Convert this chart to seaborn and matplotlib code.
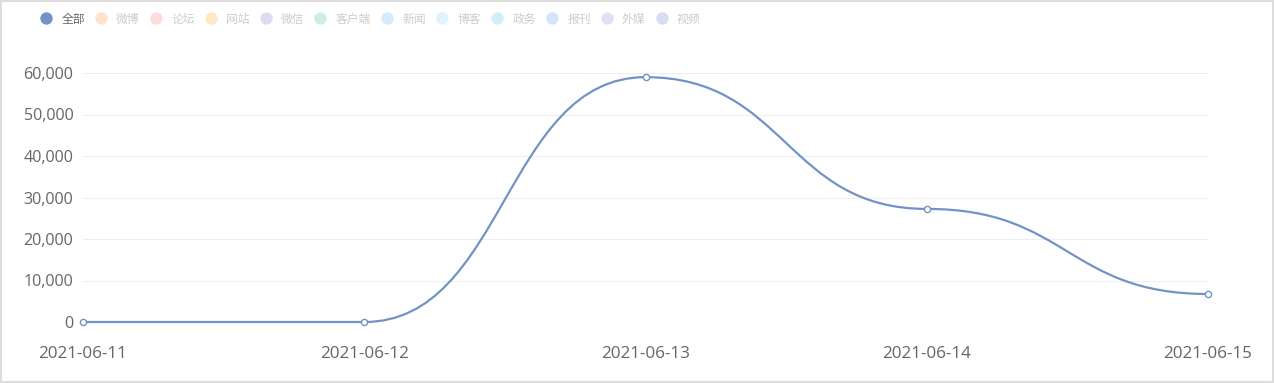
import matplotlib
matplotlib.use("Agg")
import matplotlib.pyplot as plt
import seaborn as sns
import numpy as np
import pandas as pd
from matplotlib.path import Path
from matplotlib.patches import PathPatch, Rectangle
from matplotlib.lines import Line2D
from matplotlib.ticker import FuncFormatter

# ---- data ----
dates = ["2021-06-11", "2021-06-12", "2021-06-13", "2021-06-14", "2021-06-15"]
values = [0, 0, 59000, 27250, 6750]
legend_labels = ["全部", "微博", "论坛", "网站", "微信", "客户端", "新闻", "博客", "政务", "报刊", "外媒", "视频"]
legend_colors = ["#7392c6", "#fde3cc", "#fcdcdc", "#fde9c6", "#dedcf0", "#cdeee1",
                 "#d5ebfb", "#e3f3fd", "#cfeff8", "#d5e4f8", "#e2e0f6", "#d6def1"]
y_ticks = [0, 10000, 20000, 30000, 40000, 50000, 60000]

line_color = "#7392c6"

sns.set_theme(style="white")
plt.rcParams["font.family"] = ["Open Sans", "Noto Sans CJK SC", "DejaVu Sans"]

fig = plt.figure(figsize=(12.74, 3.83), dpi=100)
ax = fig.add_axes([83 / 1274, 61 / 383, (1208 - 83) / 1274, (322 - 73) / 383])

df = pd.DataFrame({"date": dates, "value": values})
df["pos"] = np.arange(len(df))

# smooth curve (horizontal tangents at points, handles at half segment width)
xs = df["pos"].to_numpy(dtype=float)
ys = df["value"].to_numpy(dtype=float)
verts = [(xs[0], ys[0])]
codes = [Path.MOVETO]
s = 0.5
for i in range(len(xs) - 1):
    dx = xs[i + 1] - xs[i]
    verts += [(xs[i] + dx * s, ys[i]), (xs[i + 1] - dx * s, ys[i + 1]), (xs[i + 1], ys[i + 1])]
    codes += [Path.CURVE4] * 3
ax.add_patch(PathPatch(Path(verts, codes), facecolor="none", edgecolor=line_color,
                       lw=1.6, zorder=3, capstyle="round", clip_on=False))

sns.scatterplot(data=df, x="pos", y="value", ax=ax, s=20, facecolor="white",
                edgecolor=line_color, linewidth=1.0, zorder=4, legend=False)
for coll in ax.collections:
    coll.set_clip_on(False)

ax.set_xlim(0, len(dates) - 1)
ax.set_ylim(0, 60000)
ax.set_xticks(df["pos"])
ax.set_xticklabels(dates)
ax.set_yticks(y_ticks)
ax.yaxis.set_major_formatter(FuncFormatter(lambda v, p: f"{int(v):,}"))
ax.set_xlabel("")
ax.set_ylabel("")
ax.grid(axis="y", color="#eeeeee", lw=0.8)
ax.grid(axis="x", visible=False)
for sp in ax.spines.values():
    sp.set_visible(False)
ax.tick_params(axis="y", length=0, pad=7, labelsize=11.6, labelcolor="#666666")
ax.tick_params(axis="x", length=0, pad=17, labelsize=12.3, labelcolor="#666666")
ax.set_axisbelow(True)

# legend
handles = [Line2D([], [], marker="o", linestyle="", markersize=7.9,
                  markerfacecolor=c, markeredgecolor=c) for c in legend_colors]
leg = fig.legend(handles, legend_labels, loc="center left",
                 bbox_to_anchor=(40 / 1274, 1 - 19 / 383), ncol=len(legend_labels),
                 frameon=False, borderpad=0, borderaxespad=0, handlelength=1.0,
                 handletextpad=0.8, columnspacing=0.86,
                 prop={"family": ["Noto Sans CJK SC", "DejaVu Sans"], "size": 8.5})
for i, t in enumerate(leg.get_texts()):
    t.set_color("#666666" if i == 0 else "#cccccc")

fig.patches.append(Rectangle((0.0008, 0.0026), 0.9984, 0.9948, transform=fig.transFigure,
                             fill=False, edgecolor="#dddddd", lw=1.5))

fig.savefig("out.png", dpi=100)
